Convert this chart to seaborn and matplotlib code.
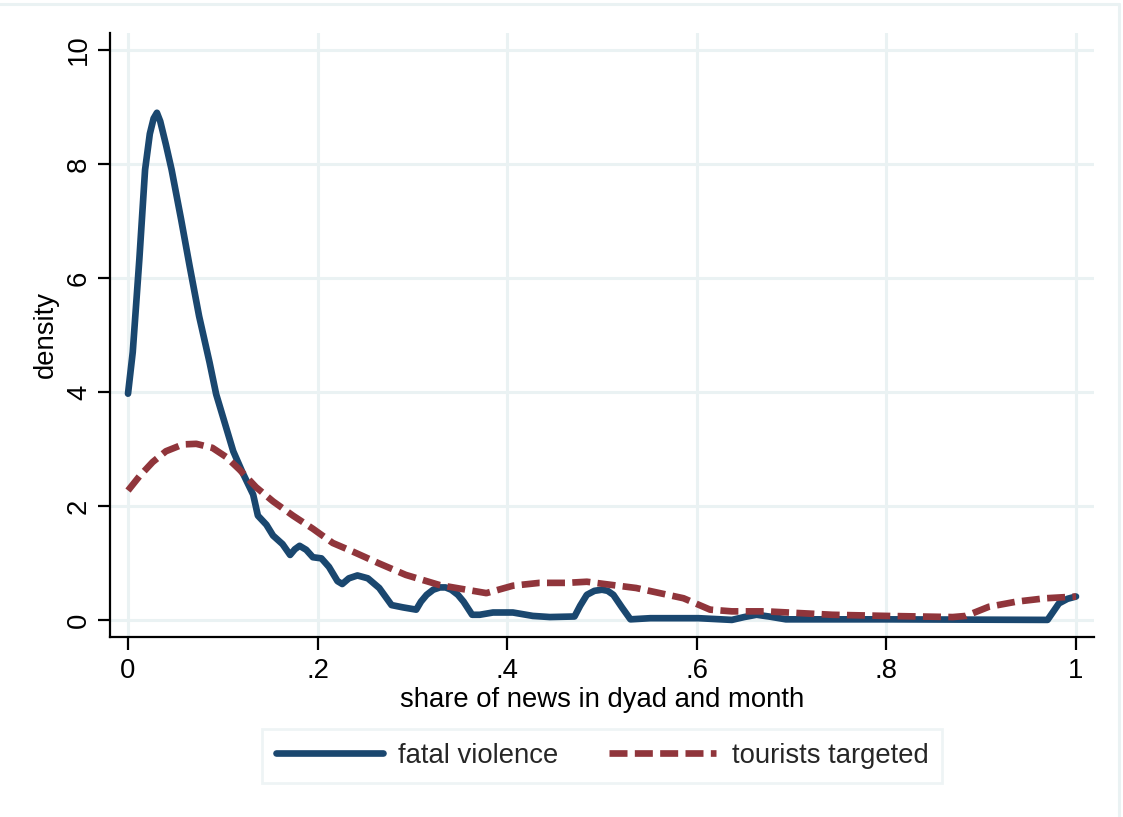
import numpy as np
import pandas as pd
import matplotlib
matplotlib.use("Agg")
import matplotlib.pyplot as plt
import seaborn as sns
from matplotlib.lines import Line2D

# ---- data ----
fv_x = [0.000, 0.005, 0.012, 0.018, 0.023, 0.027, 0.0305, 0.034, 0.040, 0.046, 0.056,
        0.065, 0.075, 0.086, 0.093, 0.102, 0.111, 0.121, 0.132, 0.137, 0.146, 0.153,
        0.163, 0.171, 0.176, 0.181, 0.188, 0.195, 0.204, 0.212, 0.221, 0.226, 0.233,
        0.242, 0.253, 0.265, 0.278, 0.290, 0.304, 0.309, 0.315, 0.322, 0.329, 0.335,
        0.341, 0.348, 0.354, 0.363, 0.371, 0.385, 0.406, 0.427, 0.445, 0.471, 0.477,
        0.484, 0.492, 0.500, 0.506, 0.512, 0.521, 0.530, 0.551, 0.602, 0.637, 0.650,
        0.663, 0.676, 0.694, 0.800, 0.970, 0.982, 0.991, 1.000]
fv_y = [3.97, 4.70, 6.34, 7.90, 8.53, 8.80, 8.90, 8.75, 8.34, 7.90, 7.03,
        6.21, 5.33, 4.52, 3.96, 3.46, 2.96, 2.58, 2.20, 1.83, 1.67, 1.48,
        1.33, 1.14, 1.24, 1.30, 1.23, 1.10, 1.08, 0.93, 0.68, 0.63, 0.73,
        0.78, 0.73, 0.56, 0.26, 0.22, 0.18, 0.32, 0.44, 0.53, 0.57, 0.57,
        0.53, 0.44, 0.32, 0.09, 0.09, 0.13, 0.13, 0.07, 0.05, 0.06, 0.25,
        0.44, 0.51, 0.53, 0.51, 0.44, 0.22, 0.01, 0.03, 0.03, 0.00, 0.05,
        0.09, 0.06, 0.01, 0.01, 0.00, 0.29, 0.37, 0.41]

tt_x = [0.000, 0.012, 0.026, 0.040, 0.058, 0.072, 0.089, 0.1035, 0.1175, 0.135, 0.153,
        0.174, 0.195, 0.216, 0.237, 0.265, 0.293, 0.329, 0.357, 0.378, 0.406, 0.434,
        0.463, 0.484, 0.512, 0.536, 0.561, 0.586, 0.614, 0.637, 0.673, 0.743, 0.800,
        0.870, 0.884, 0.908, 0.937, 0.968, 1.000]
tt_y = [2.27, 2.52, 2.77, 2.96, 3.08, 3.09, 3.02, 2.86, 2.64, 2.33, 2.08,
        1.83, 1.60, 1.35, 1.20, 0.99, 0.79, 0.61, 0.53, 0.47, 0.60, 0.65,
        0.65, 0.67, 0.61, 0.56, 0.47, 0.38, 0.18, 0.15, 0.15, 0.09, 0.07,
        0.05, 0.07, 0.23, 0.32, 0.38, 0.41]

series_names = ["fatal violence", "tourists targeted"]
x_ticks = [0, 0.2, 0.4, 0.6, 0.8, 1.0]
x_ticklabels = ["0", ".2", ".4", ".6", ".8", "1"]
y_ticks = [0, 2, 4, 6, 8, 10]
y_ticklabels = ["0", "2", "4", "6", "8", "10"]
x_title = "share of news in dyad and month"
y_title = "density"

BLUE = "#1a476f"
RED = "#90353b"
GRID = "#eaf2f3"

sns.set_theme(style="white")
plt.rcParams["font.family"] = ["Liberation Sans", "DejaVu Sans"]

fig = plt.figure(figsize=(11.23, 8.17), dpi=100)
fig.patch.set_facecolor("white")
ax = fig.add_axes([110 / 1123, 1 - 637 / 817, (1094 - 110) / 1123, (637 - 33) / 817])
ax.set_facecolor("white")

df_fv = pd.DataFrame({"x": fv_x, "y": fv_y})
df_tt = pd.DataFrame({"x": tt_x, "y": tt_y})

LW = 4.8
sns.lineplot(data=df_fv, x="x", y="y", ax=ax, color=BLUE, linewidth=LW,
             label=series_names[0], solid_capstyle="round", solid_joinstyle="round",
             zorder=3)
sns.lineplot(data=df_tt, x="x", y="y", ax=ax, color=RED, linewidth=LW,
             label=series_names[1], linestyle=(0, (2.7, 1.1)), zorder=4)

ax.set_xlim(-0.019, 1.019)
ax.set_ylim(-0.30, 10.30)
ax.set_xticks(x_ticks)
ax.set_xticklabels(x_ticklabels)
ax.set_yticks(y_ticks)
ax.set_yticklabels(y_ticklabels, rotation=90, va="center")

ax.grid(True, color=GRID, linewidth=2.2, zorder=0)
ax.set_axisbelow(True)

for s in ["top", "right"]:
    ax.spines[s].set_visible(False)
for s in ["left", "bottom"]:
    ax.spines[s].set_visible(True)
    ax.spines[s].set_color("black")
    ax.spines[s].set_linewidth(1.6)

ax.tick_params(axis="both", which="major", direction="out", length=9, width=1.6,
               color="black", labelsize=19.8, labelcolor="black", pad=6,
               bottom=True, left=True)
ax.tick_params(axis="y", pad=4)

ax.set_xlabel(x_title, fontsize=19.8, labelpad=2, color="black")
ax.set_ylabel(y_title, fontsize=19.8, labelpad=5, color="black")

leg = ax.legend(loc="center", bbox_to_anchor=(0.5, -0.197), ncol=2, frameon=True,
                fancybox=False, fontsize=19.8, handlelength=3.9, handletextpad=0.55,
                columnspacing=1.85, borderpad=0.5, edgecolor=GRID)
leg.get_frame().set_linewidth(2.0)
for h in leg.get_lines():
    h.set_linewidth(LW)

# outer graph-region border (visible at top and right)
fig.add_artist(Line2D([0, 1119 / 1123], [1 - 4 / 817, 1 - 4 / 817],
                      transform=fig.transFigure, color=GRID, linewidth=2.2))
fig.add_artist(Line2D([1119 / 1123, 1119 / 1123], [0, 1 - 4 / 817],
                      transform=fig.transFigure, color=GRID, linewidth=2.2))

fig.savefig("out.png", dpi=100, facecolor="white")
